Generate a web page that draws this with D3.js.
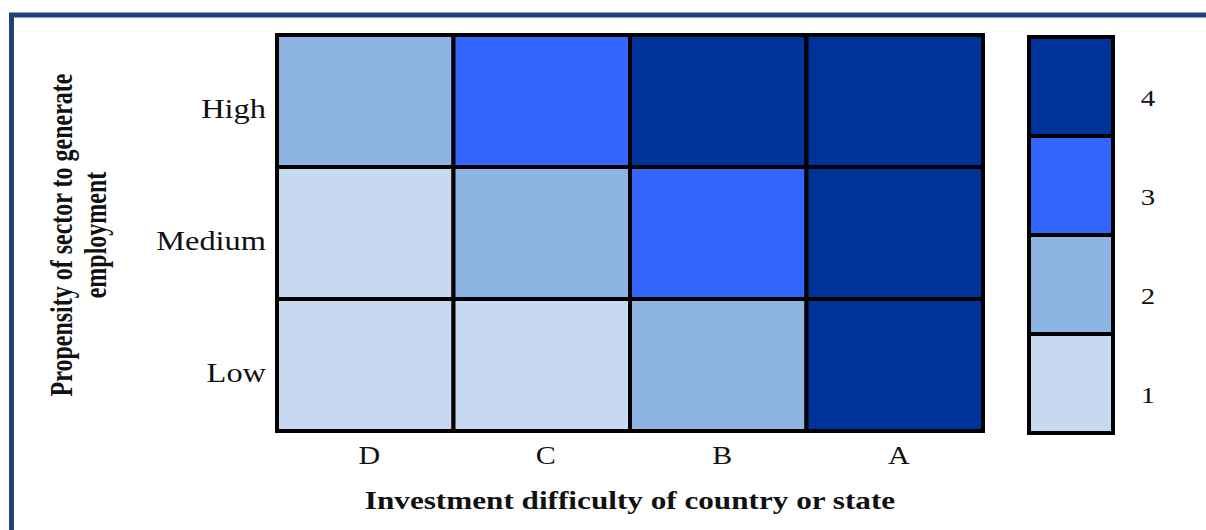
<!DOCTYPE html>
<html>
<head>
<meta charset="utf-8">
<script src="https://cdn.jsdelivr.net/npm/d3@7"></script>
<style>
  body { margin: 0; background: #fff; }
  svg { display: block; }
  text { font-family: "Liberation Serif", "DejaVu Serif", serif; fill: #111; }
</style>
</head>
<body>
<div id="chart"></div>
<script>
// columns (investment difficulty) and rows (propensity)
const columns = ['D', 'C', 'B', 'A'];
const rows = ['High', 'Medium', 'Low'];
const highValues = [2, 3, 4, 4];
const mediumValues = [1, 2, 3, 4];
const lowValues = [1, 1, 2, 4];
const levels = [1, 2, 3, 4];
const levelColors = ['#c6d9f1', '#8eb4e3', '#3366ff', '#003399'];

const width = 1206, height = 530;
const stretch = 1.2; // the source picture is a bit wide, text looks stretched
const cells = [];
[highValues, mediumValues, lowValues].forEach((vals, r) => {
    vals.forEach((v, c) => cells.push({row: rows[r], col: columns[c], value: v}));
});

const svg = d3.select('#chart').append('svg')
    .attr('width', width)
    .attr('height', height);

// frame lines (top and left only)
svg.append('path')
    .attr('d', `M11.5,${height} V15 H${width}`)
    .attr('fill', 'none')
    .attr('stroke', '#21407c')
    .attr('stroke-width', 5);

const x = d3.scaleBand().domain(columns).range([277, 983]);
const y = d3.scaleBand().domain(rows).range([35, 431]);
const color = d3.scaleOrdinal().domain(levels).range(levelColors);

svg.append('g').selectAll('rect')
    .data(cells)
    .join('rect')
      .attr('x', d => x(d.col))
      .attr('y', d => y(d.row))
      .attr('width', x.bandwidth())
      .attr('height', y.bandwidth())
      .attr('fill', d => color(d.value))
      .attr('stroke', '#000')
      .attr('stroke-width', 4);

const at = (px, py) => `translate(${px},${py}) scale(${stretch},1)`;

// row labels
svg.append('g').selectAll('text')
    .data(rows)
    .join('text')
      .attr('transform', d => at(266, y(d) + y.bandwidth() / 2 + 17))
      .attr('text-anchor', 'end')
      .style('font-size', '27px')
      .text(d => d);

// column labels
svg.append('g').selectAll('text')
    .data(columns)
    .join('text')
      .attr('transform', d => at(x(d) + x.bandwidth() / 2 + 4, 464))
      .attr('text-anchor', 'middle')
      .style('font-size', '25px')
      .text(d => d);

// legend
const ly = d3.scaleBand().domain(levels.slice().reverse()).range([37, 433]);
svg.append('g').selectAll('rect')
    .data(levels)
    .join('rect')
      .attr('x', 1029)
      .attr('y', d => ly(d))
      .attr('width', 84)
      .attr('height', ly.bandwidth())
      .attr('fill', d => color(d))
      .attr('stroke', '#000')
      .attr('stroke-width', 4);

svg.append('g').selectAll('text')
    .data(levels)
    .join('text')
      .attr('transform', d => at(1148, ly(d) + ly.bandwidth() / 2 + 19))
      .attr('text-anchor', 'middle')
      .style('font-size', '24px')
      .text(d => d);

// axis titles
svg.append('text')
    .attr('transform', at(630, 509))
    .attr('text-anchor', 'middle')
    .style('font-size', '26px')
    .style('font-weight', 'bold')
    .text('Investment difficulty of country or state');

const yTitle = svg.append('text')
    .attr('transform', 'translate(0,235) scale(1.3,1) rotate(-90)')
    .attr('text-anchor', 'middle')
    .style('font-size', '24px')
    .style('font-weight', 'bold');
yTitle.append('tspan').attr('x', 0).attr('y', 55.5).text('Propensity of sector to generate');
yTitle.append('tspan').attr('x', 0).attr('y', 81.5).text('employment');
</script>
</body>
</html>
